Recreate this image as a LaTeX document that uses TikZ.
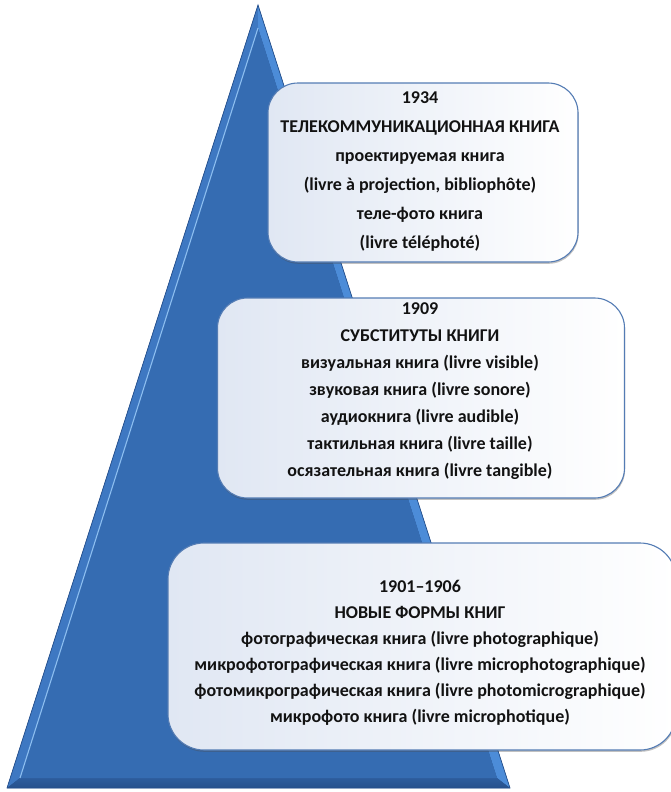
\documentclass[tikz,border=0pt]{standalone}
\usepackage{fontspec}
\setmainfont{Carlito}
\usetikzlibrary{shadows}
\definecolor{triblue}{RGB}{53,108,178}
\definecolor{tridark}{RGB}{38,80,140}
\definecolor{trilight}{RGB}{85,150,225}
\definecolor{bevlight}{RGB}{62,120,194}
\definecolor{bevright}{RGB}{76,140,216}
\definecolor{hilite}{RGB}{140,190,240}
\definecolor{boxedge}{RGB}{84,124,180}
\definecolor{boxtint}{RGB}{224,231,243}
\definecolor{txtcol}{RGB}{18,18,18}
\pgfdeclareverticalshading{trishade}{100bp}{color(0bp)=(triblue); color(82bp)=(triblue); color(100bp)=(trilight)}
\begin{document}
\begin{tikzpicture}[x=1pt,y=-1pt,
  panel/.style={draw=boxedge, line width=1.1pt, rounded corners=30pt,
    left color=boxtint, right color=white,
    inner sep=0pt,
    drop shadow={shadow xshift=0.6pt, shadow yshift=-1.8pt, opacity=0.35, fill=black!70}},
  txt/.style={align=center, text=txtcol, inner sep=0pt, anchor=north}]
\useasboundingbox (0,0) rectangle (670,792);
% pyramid
\coordinate (apex) at (258,5);
\coordinate (bl) at (7,788);
\coordinate (br) at (510,788);
\coordinate (iapex) at (258,28);
\coordinate (ibl) at (20,778);
\coordinate (ibr) at (497,778);
\fill[tridark] (apex) -- (br) -- (bl) -- cycle;
\fill[bevlight] (apex) -- (iapex) -- (ibl) -- (bl) -- cycle;
\fill[bevright] (apex) -- (br) -- (ibr) -- (iapex) -- cycle;
\shade[top color=tridark!55!triblue, bottom color=tridark] (bl) -- (ibl) -- (ibr) -- (br) -- cycle;
\shade[shading=trishade] (iapex) -- (ibr) -- (ibl) -- cycle;
\draw[hilite, line width=1.1pt] (iapex) -- (ibl);
\draw[tridark, line width=0.7pt] (apex) -- (br) -- (bl) -- cycle;
% panels
\node[panel, minimum width=310pt, minimum height=179pt] (b1) at (423,172.5) {};
\node[panel, minimum width=407pt, minimum height=200pt] (b2) at (421,398) {};
\node[panel, minimum width=508pt, minimum height=207pt, rounded corners=36pt] (b3) at (422,646.5) {};
% texts
\node[txt, font=\fontsize{18}{29}\selectfont\bfseries] (t1) at (420,91)
 {1934\\ТЕЛЕКОММУНИКАЦИОННАЯ КНИГА\\проектируемая книга\\(livre à projection, bibliophôte)\\теле-фото книга\\(livre téléphoté)};
\node[txt, font=\fontsize{18}{27}\selectfont\bfseries] (t2) at (420,302)
 {1909\\СУБСТИТУТЫ КНИГИ\\визуальная книга (livre visible)\\звуковая книга (livre sonore)\\аудиокнига (livre audible)\\тактильная книга (livre taille)\\осязательная книга (livre tangible)};
\node[txt, font=\fontsize{18}{26}\selectfont\bfseries] (t3) at (420,580)
 {1901–1906\\НОВЫЕ ФОРМЫ КНИГ\\фотографическая книга (livre photographique)\\микрофотографическая книга (livre microphotographique)\\фотомикрографическая книга (livre photomicrographique)\\микрофото книга (livre microphotique)};
\end{tikzpicture}
\end{document}
